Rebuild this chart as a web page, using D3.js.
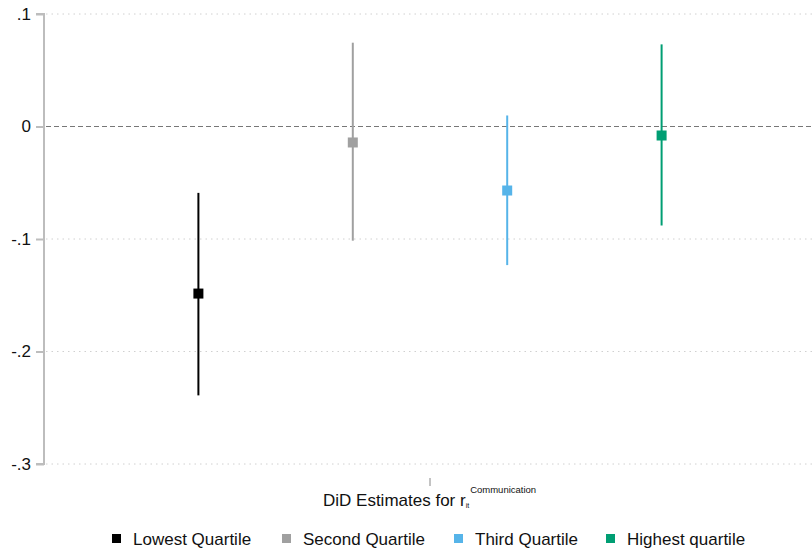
<!DOCTYPE html>
<html><head><meta charset="utf-8">
<script src="https://cdn.jsdelivr.net/npm/d3@7"></script>
<style>body{margin:0;background:#fff}svg{display:block}</style>
</head><body>
<svg id="c" width="812" height="551"></svg>
<script>
const groups = ["Lowest Quartile","Second Quartile","Third Quartile","Highest quartile"];
const estimates = [-0.1485, -0.0142, -0.0569, -0.0080];
const ciLow = [-0.239, -0.1015, -0.1232, -0.0880];
const ciHigh = [-0.0590, 0.0745, 0.0098, 0.0730];
const offsets = [-1.5, -0.5, 0.5, 1.5];
const colors = ["#000000","#a0a0a0","#56b4e9","#009e73"];
const yTicks = [0.1, 0, -0.1, -0.2, -0.3];
const yTickLabels = [".1","0","-.1","-.2","-.3"];

const svg = d3.select("#c");
const font = "'Liberation Sans', Arial, sans-serif";
const y = d3.scaleLinear().domain([-0.3, 0.1]).range([464, 14]);
const x = d3.scaleLinear().domain([-2.5, 2.5]).range([44, 816]);

// gridlines
svg.append("g").selectAll("line").data(yTicks.filter(d => d !== 0)).join("line")
  .attr("x1", 46).attr("x2", 812).attr("y1", d => y(d)).attr("y2", d => y(d))
  .attr("stroke", "#d0d0d0").attr("stroke-width", 1).attr("stroke-dasharray", "1.5,4");
// zero line
svg.append("line").attr("x1", 46).attr("x2", 812).attr("y1", y(0)).attr("y2", y(0))
  .attr("stroke", "#777").attr("stroke-width", 1).attr("stroke-dasharray", "5,3");

// y axis
const yAxis = d3.axisLeft(y).tickValues(yTicks).tickFormat((d, i) => yTickLabels[i]).tickSize(8).tickPadding(5);
const ga = svg.append("g").attr("transform", "translate(44,0)").call(yAxis);
ga.select(".domain").attr("stroke", "#bdbdbd").attr("stroke-width", 2).attr("d", `M-8,${y(0.1)}H0V${y(-0.3)}H-8`);
ga.selectAll(".tick line").attr("stroke", "#bdbdbd").attr("stroke-width", 2);
ga.selectAll(".tick text").attr("font-family", font).attr("font-size", 17).attr("fill", "#111");

// x tick
svg.append("line").attr("x1", x(0)).attr("x2", x(0)).attr("y1", 478).attr("y2", 486)
  .attr("stroke", "#888").attr("stroke-width", 1);

// CIs and points
const g = svg.append("g");
groups.forEach((name, i) => {
  const cx = x(offsets[i]);
  g.append("line").attr("x1", cx).attr("x2", cx).attr("y1", y(ciHigh[i])).attr("y2", y(ciLow[i]))
    .attr("stroke", colors[i]).attr("stroke-width", 2);
  g.append("rect").attr("x", cx - 5).attr("y", y(estimates[i]) - 5).attr("width", 10).attr("height", 10)
    .attr("fill", colors[i]);
});

// x title
const t = svg.append("text").attr("x", 323).attr("y", 506).attr("font-family", font).attr("font-size", 17).attr("fill", "#111");
t.append("tspan").text("DiD Estimates for r");
t.append("tspan").attr("font-size", 7).attr("dy", 2).text("it");
t.append("tspan").attr("font-size", 9.5).attr("dy", -15).attr("dx", 1).text("Communication");

// legend
const legX = [117, 287, 459, 611];
groups.forEach((name, i) => {
  svg.append("rect").attr("x", legX[i] - 5).attr("y", 534).attr("width", 9).attr("height", 9).attr("fill", colors[i]);
  svg.append("text").attr("x", legX[i] + 16).attr("y", 545).attr("font-family", font).attr("font-size", 17)
    .attr("fill", "#111").text(name);
});
</script>
</body></html>
